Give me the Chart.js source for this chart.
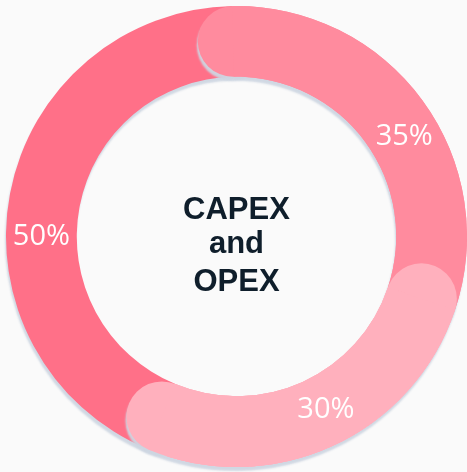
<!DOCTYPE html>
<html>
<head>
<meta charset="utf-8">
<script src="https://cdn.jsdelivr.net/npm/chart.js@4.4.1/dist/chart.umd.min.js"></script>
<style>
  html, body { margin: 0; padding: 0; background: #fafafa; }
  #wrap { width: 467px; height: 472px; }
</style>
</head>
<body>
<div id="wrap"><canvas id="c" width="467" height="472"></canvas></div>
<script>
// ---- data ----
const categories = ['Segment A', 'Segment B', 'Segment C'];
const values = [50, 35, 30];
const valueLabels = ['50%', '35%', '30%'];
const centerLines = ['CAPEX', 'and', 'OPEX'];
const colors = ['#ff7088', '#ff8b9e', '#ffb0bd'];

const capsPlugin = {
  id: 'roundCaps',
  beforeDatasetsDraw(chart, args, opts) {
    const ctx = chart.ctx;
    ctx.save();
    ctx.shadowColor = opts.shadowColor;
    ctx.shadowOffsetX = opts.shadowX;
    ctx.shadowOffsetY = opts.shadowY;
    ctx.shadowBlur = opts.shadowBlur;
  },
  afterDatasetsDraw(chart, args, opts) {
    const ctx = chart.ctx;
    const arcs = chart.getDatasetMeta(0).data;
    const cols = chart.data.datasets[0].backgroundColor;
    const cap = (arc, angle, color) => {
      const r = (arc.innerRadius + arc.outerRadius) / 2;
      const cr = (arc.outerRadius - arc.innerRadius) / 2;
      ctx.beginPath();
      ctx.arc(arc.x + r * Math.cos(angle), arc.y + r * Math.sin(angle), cr, 0, Math.PI * 2);
      ctx.fillStyle = color;
      ctx.fill();
    };
    const redraw = (arc) => {
      ctx.save();
      ctx.shadowColor = 'rgba(0,0,0,0)';
      ctx.shadowOffsetX = 0; ctx.shadowOffsetY = 0; ctx.shadowBlur = 0;
      arc.draw(ctx);
      ctx.restore();
    };
    for (let i = 1; i < arcs.length; i++) {
      cap(arcs[i], arcs[i].startAngle, cols[i]);
      redraw(arcs[i]);
    }
    const last = arcs[arcs.length - 1];
    cap(last, last.endAngle, cols[arcs.length - 1]);
    redraw(last);
    ctx.restore();

    // value labels
    ctx.save();
    ctx.fillStyle = '#ffffff';
    ctx.font = opts.labelFont;
    ctx.textAlign = 'center';
    ctx.textBaseline = 'middle';
    arcs.forEach((arc, i) => {
      const f = opts.labelAlong[i];
      const a = arc.startAngle + f * (arc.endAngle - arc.startAngle);
      const r = (arc.innerRadius + arc.outerRadius) / 2;
      ctx.fillText(valueLabels[i], arc.x + r * Math.cos(a), arc.y + r * Math.sin(a));
    });
    ctx.restore();

    // center text
    const a0 = arcs[0];
    ctx.save();
    ctx.fillStyle = '#0f1e2b';
    ctx.font = opts.centerFont;
    ctx.textAlign = 'center';
    ctx.textBaseline = 'alphabetic';
    centerLines.forEach((t, i) => {
      ctx.fillText(t, a0.x, a0.y + opts.centerBaselines[i]);
    });
    ctx.restore();
  }
};

new Chart(document.getElementById('c'), {
  type: 'doughnut',
  data: {
    labels: categories,
    datasets: [{
      data: values,
      backgroundColor: colors,
      borderWidth: 0,
      hoverOffset: 0
    }]
  },
  options: {
    responsive: false,
    animation: false,
    devicePixelRatio: 1,
    rotation: 202.5,
    cutout: '69.3%',
    layout: { padding: { left: 6, right: 0, top: 6, bottom: 5 } },
    events: [],
    plugins: {
      legend: { display: false },
      tooltip: { enabled: false },
      roundCaps: {
        shadowColor: 'rgba(205,214,226,0.95)',
        shadowX: -1,
        shadowY: 4,
        shadowBlur: 2,
        labelFont: '500 29px "Open Sans"',
        labelAlong: [0.43, 0.55, 0.47],
        centerFont: 'bold 31px "Liberation Sans", Arial, sans-serif',
        centerBaselines: [-18, 16, 54]
      }
    }
  },
  plugins: [capsPlugin]
});
</script>
</body>
</html>
